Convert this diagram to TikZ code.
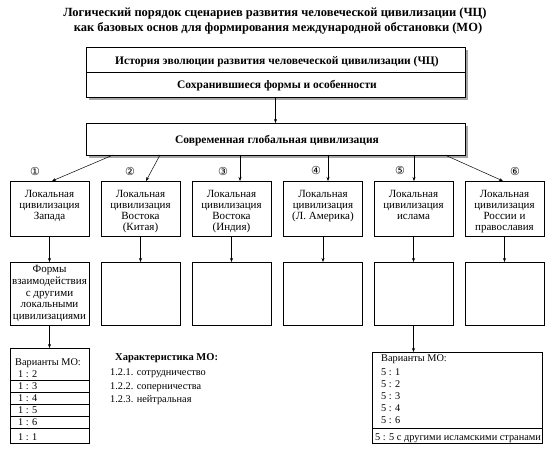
\documentclass[tikz,border=0pt]{standalone}
\usepackage{fontspec}
\setmainfont{Liberation Serif}
\newfontfamily\dvs{DejaVu Sans}
\usetikzlibrary{arrows.meta}
\begin{document}
\begin{tikzpicture}[x=1pt,y=-1pt,
  bx/.style={draw, line width=0.85pt, inner sep=0pt, outer sep=0pt, fill=white},
  arr/.style={-{Stealth[length=4pt,width=3pt]}, line width=0.5pt},
  ttl/.style={font=\fontsize{12.5}{14}\bfseries\selectfont, anchor=base, inner sep=0pt},
  hb/.style={font=\fontsize{11.5}{13}\bfseries\selectfont, anchor=base, inner sep=0pt},
  lt/.style={font=\fontsize{11}{11}\selectfont, align=center, inner sep=0pt, anchor=north},
  ft/.style={font=\fontsize{11}{11.8}\selectfont, align=center, inner sep=0pt},
  vt/.style={font=\fontsize{10.3}{12}\selectfont, anchor=base west, inner sep=0pt},
  vb/.style={font=\fontsize{10.5}{12}\bfseries\selectfont, anchor=base west, inner sep=0pt},
  num/.style={font=\dvs\fontsize{11}{11}\selectfont, inner sep=0pt},
  shd/.style={fill=black!35, draw=none}
]
\useasboundingbox (0,0) rectangle (550,450);

% title
\node[ttl] (t1) at (275,16) {Логический порядок сценариев развития человеческой цивилизации (ЧЦ)};
\node[ttl] (t2) at (278,31) {как базовых основ для формирования международной обстановки (МО)};

% top box
\fill[shd] (88.5,49.5) rectangle (467.5,99.5);
\node[bx, minimum width=379pt, minimum height=25pt] (hist) at (275.5,59.5) {};
\node[bx, minimum width=379pt, minimum height=25pt] (surv) at (275.5,84.5) {};
\node[hb] (histt) at (277,64) {История эволюции развития человеческой цивилизации (ЧЦ)};
\node[hb] (survt) at (277,88.5) {Сохранившиеся формы и особенности};

% global box
\fill[shd] (88.5,125.5) rectangle (467.5,157.5);
\node[bx, minimum width=379pt, minimum height=32pt] (glob) at (275.5,139) {};
\node[hb] (globt) at (277,143.5) {Современная глобальная цивилизация};
\draw[arr] (surv.south) -- (glob.north);

% local boxes
\foreach \i/\x in {1/49.5,2/140.5,3/231.5,4/323,5/413.5,6/504.5}{
  \node[bx, minimum width=79pt, minimum height=55pt] (l\i) at (\x,208.5) {};
  \node[bx, minimum width=79pt, minimum height=63pt] (f\i) at (\x,293.5) {};
  \draw[arr] (l\i.south) -- (f\i.north);
}
\node[lt] (l1t) at ([yshift=-8.7pt]l1.north) {Локальная\\цивилизация\\Запада};
\node[lt] (l2t) at ([yshift=-8.7pt]l2.north) {Локальная\\цивилизация\\Востока\\(Китая)};
\node[lt] (l3t) at ([yshift=-8.7pt]l3.north) {Локальная\\цивилизация\\Востока\\(Индия)};
\node[lt] (l4t) at ([yshift=-8.7pt]l4.north) {Локальная\\цивилизация\\(Л. Америка)};
\node[lt] (l5t) at ([yshift=-8.7pt]l5.north) {Локальная\\цивилизация\\ислама};
\node[lt] (l6t) at ([yshift=-8.7pt]l6.north) {Локальная\\цивилизация\\России и\\православия};
\node[ft] (f1t) at (f1.center) {Формы\\взаимодействия\\с другими\\локальными\\цивилизациями};

% arrows from global
\draw[arr] ([xshift=-162.5pt]glob.south) -- ([xshift=2.5pt]l1.north);
\draw[arr] ([xshift=-115.5pt]glob.south) -- ([xshift=5.5pt]l2.north);
\draw[arr] ([xshift=-35.5pt]glob.south) -- ([xshift=8.5pt]l3.north);
\draw[arr] ([xshift=52.5pt]glob.south) -- ([xshift=5pt]l4.north);
\draw[arr] ([xshift=138.5pt]glob.south) -- ([xshift=0.5pt]l5.north);
\draw[arr] ([xshift=169.5pt]glob.south) -- ([xshift=-1.5pt]l6.north);

% circled numbers
\node[num] (n1) at (35,171) {①};
\node[num] (n2) at (130,171) {②};
\node[num] (n3) at (223,171) {③};
\node[num] (n4) at (316,170.5) {④};
\node[num] (n5) at (400,170.5) {⑤};
\node[num] (n6) at (515,171) {⑥};

% left variants
\node[bx, minimum width=79pt, minimum height=95pt] (v1) at (49.5,395.5) {};
\draw[arr] (f1.south) -- (v1.north);
\node[bx, minimum width=79pt, minimum height=12pt, anchor=north] (r13) at (49.5,380) {};
\node[bx, minimum width=79pt, minimum height=12pt, anchor=north] (r14) at (49.5,392) {};
\node[bx, minimum width=79pt, minimum height=12pt, anchor=north] (r15) at (49.5,404) {};
\node[bx, minimum width=79pt, minimum height=12pt, anchor=north] (r16) at (49.5,416) {};
\node[bx, minimum width=79pt, minimum height=15pt, anchor=north] (r11) at (49.5,428) {};
\node[vt] (vh1) at (15,365) {Варианты МО:};
\node[vt] (a12) at (18,377.3) {1 : 2};
\node[vt] (a13) at (18,389.7) {1 : 3};
\node[vt] (a14) at (18,401.7) {1 : 4};
\node[vt] (a15) at (18,413.7) {1 : 5};
\node[vt] (a16) at (18,425.7) {1 : 6};
\node[vt] (a11) at (18,440) {1 : 1};

% characteristic
\node[vb] (ch) at (115,360.7) {Характеристика МО:};
\node[vt] (c1) at (110,375) {1.2.1. сотрудничество};
\node[vt] (c2) at (110,389) {1.2.2. соперничества};
\node[vt] (c3) at (110,402.7) {1.2.3. нейтральная};

% right variants
\node[bx, minimum width=170pt, minimum height=91pt] (v5) at (457,397.5) {};
\draw[arr] (f5.south) -- (f5.south |- v5.north);
\node[bx, minimum width=170pt, minimum height=15pt, anchor=north] (r55) at (457,428) {};
\node[vt] (vh5) at (381,361.7) {Варианты МО:};
\node[vt] (b51) at (381,375) {5 : 1};
\node[vt] (b52) at (381,387) {5 : 2};
\node[vt] (b53) at (381,399) {5 : 3};
\node[vt] (b54) at (381,411) {5 : 4};
\node[vt] (b56) at (381,423.5) {5 : 6};
\node[vt] (b55) at (375,440) {5 : 5 с другими исламскими странами};
\end{tikzpicture}
\end{document}
